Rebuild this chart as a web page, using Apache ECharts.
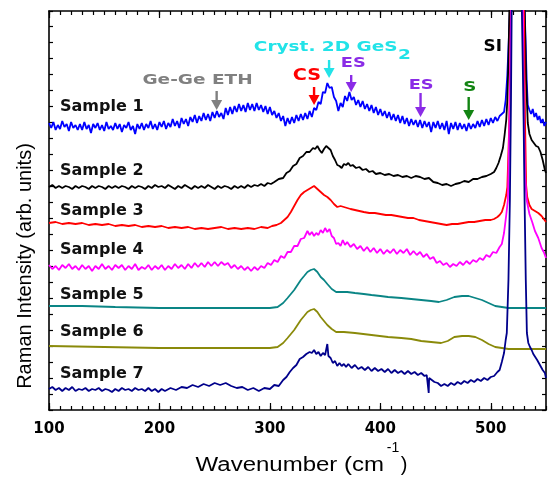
<!DOCTYPE html>
<html><head><meta charset="utf-8">
<script src="https://cdn.jsdelivr.net/npm/echarts@6/dist/echarts.min.js"></script>
<style>html,body{margin:0;padding:0;background:#fff}#c{width:549px;height:477px}</style>
</head><body><div id="c"></div>
<script>
// ---- data: [wavenumber (cm^-1), stacked Raman intensity (arb. units)] ----
const sample1 = [[100,287],[102,282],[104,288],[106,280],[108,285],[110,281],[112,289],[114,283],[116,286],[118,279],[120,288],[122,282],[124,285],[126,280],[128,286],[130,280],[132,288],[134,281],[136,285],[138,277],[140,286],[142,282],[144,287],[146,280],[148,285],[150,279],[152,288],[154,281],[156,284],[158,280],[160,287],[162,281],[164,286],[166,278],[168,285],[170,282],[172,288],[174,280],[176,284],[178,276],[180,286],[182,281],[184,287],[186,280],[188,286],[190,282],[192,289],[194,281],[196,286],[198,280],[200,288],[202,283],[204,289],[206,281],[208,287],[210,283],[212,291],[214,284],[216,289],[218,282],[220,292],[222,286],[224,291],[226,284],[228,293],[230,288],[232,295],[234,287],[236,294],[238,289],[240,297],[242,290],[244,296],[246,289],[248,298],[250,292],[252,299],[254,293],[256,297],[258,291],[260,302],[262,295],[264,303],[266,296],[268,304],[270,298],[272,306],[274,299],[276,305],[278,298],[280,307],[282,300],[284,306],[286,299],[288,307],[290,300],[292,305],[294,298],[296,304],[298,296],[300,303],[302,295],[304,299],[306,292],[308,297],[310,289],[312,294],[314,284],[316,292],[318,286],[320,293],[322,287],[324,295],[326,289],[328,296],[330,290],[332,297],[334,291],[336,299],[338,293],[340,302],[342,300],[344,308],[346,306],[348,318],[350,317],[352,327],[354,322],[356,323],[358,313],[360,309],[362,299],[364,307],[366,303],[368,314],[370,309],[372,318],[374,310],[376,313],[378,305],[380,310],[382,303],[384,309],[386,301],[388,306],[390,299],[392,305],[394,297],[396,303],[398,295],[400,301],[402,294],[404,299],[406,292],[408,298],[410,290],[412,296],[414,289],[416,295],[418,287],[420,294],[422,286],[424,292],[426,284],[428,291],[430,285],[432,290],[434,283],[436,290],[438,282],[440,289],[442,283],[444,288],[446,278],[448,288],[450,282],[452,289],[454,281],[456,287],[458,280],[460,289],[462,276],[464,287],[466,281],[468,288],[470,280],[472,287],[474,281],[476,286],[478,279],[480,287],[482,281],[484,286],[486,282],[488,289],[490,283],[492,290],[494,284],[496,291],[498,285],[500,292],[502,287],[504,293],[506,289],[508,294],[510,296],[512,298],[513.5,310],[515,335],[516.5,375],[517.5,405],[524,1500],[530.5,405],[531.5,370],[532.5,330],[533.5,305],[535,300],[536.5,296],[538,301],[539.5,293],[541,297],[542.5,290],[544,294],[545.5,287],[547,291],[548.5,284],[550,288]];
const sample2 = [[100,223],[103,225],[106,222],[109,224],[112,222],[115,224],[118,223],[121,221],[124,224],[127,222],[130,224],[133,223],[136,221],[139,224],[142,222],[145,224],[148,223],[151,221],[154,224],[157,222],[160,224],[163,222],[166,224],[169,223],[172,221],[175,224],[178,222],[181,224],[184,223],[187,221],[190,224],[193,222],[196,225],[199,223],[202,224],[205,222],[208,225],[211,223],[214,221],[217,224],[220,222],[223,225],[226,223],[229,221],[232,224],[235,222],[238,224],[241,222],[244,225],[247,223],[250,221],[253,224],[256,222],[259,224],[262,223],[265,221],[268,224],[271,222],[274,224],[277,222],[280,225],[283,223],[286,225],[289,224],[292,226],[295,224],[298,227],[301,226],[304,228],[308,231],[312,232],[315,237],[318,239],[321,244],[324,246],[327,252],[330,254],[333,258],[336,258],[339,262],[341,261],[343,264],[345,260],[347,257],[349,261],[351,264],[353,262],[355,260],[357,254],[359,250],[361,245],[363,244],[365,242],[367,246],[369,245],[371,247],[373,244],[375,245],[378,242],[381,243],[384,240],[387,241],[390,238],[393,239],[396,236],[400,237],[404,235],[408,236],[412,234],[416,235],[420,233],[424,234],[428,232],[432,234],[436,233],[440,231],[444,232],[448,228],[452,227],[456,225],[460,226],[464,224],[468,226],[472,227],[476,229],[480,228],[484,231],[488,231],[492,233],[496,234],[500,236],[503,238],[505,242],[507,247],[509,254],[511,262],[512.5,275],[514,290],[515,310],[516,350],[517,410],[524,1500],[530.5,410],[532,330],[533.5,287],[535,276],[537,270],[539,267],[541,264],[543,263],[545,258],[547,250],[549,240],[550,237]];
const sample3 = [[100,187],[106,188],[112,186],[118,187],[124,186],[130,187],[136,185],[142,186],[148,185],[154,186],[160,184],[166,185],[172,184],[178,185],[184,183],[190,184],[196,183],[202,184],[208,182],[214,183],[220,182],[226,183],[232,181],[238,182],[244,181],[250,182],[256,183],[262,181],[268,182],[274,181],[280,182],[286,181],[292,183],[298,182],[302,184],[306,185],[310,187],[313,190],[316,193],[319,198],[322,204],[325,210],[328,215],[331,218],[334,220],[337,222],[340,224],[342,222],[344,220],[346,218],[349,215],[352,213],[355,210],[358,206],[361,203],[364,204],[367,203],[370,202],[373,201],[377,200],[381,199],[385,198],[390,197],[395,197],[400,196],[405,195],[410,195],[415,194],[420,193],[425,192],[430,192],[435,190],[440,189],[445,188],[450,187],[455,186],[460,185],[465,186],[470,186],[475,187],[480,188],[485,188],[490,189],[495,190],[500,190],[503,191],[506,193],[508,195],[510,198],[512,205],[514,215],[515,223],[516.5,277],[517.5,340],[518.3,410],[524,1500],[530,410],[531,290],[532,225],[533,213],[535,205],[537,201],[540,199],[543,197],[546,194],[548,191],[550,188]];
const sample4 = [[100,145],[103,141],[106,144],[109,140],[112,145],[115,142],[118,146],[121,141],[124,144],[127,140],[130,145],[133,141],[136,144],[139,139],[142,144],[145,141],[148,146],[151,141],[154,144],[157,140],[160,145],[163,142],[166,145],[169,140],[172,144],[175,141],[178,146],[181,140],[184,143],[187,141],[190,145],[193,140],[196,144],[199,141],[202,145],[205,140],[208,144],[211,141],[214,146],[217,142],[220,145],[223,141],[226,146],[229,142],[232,147],[235,143],[238,147],[241,143],[244,148],[247,144],[250,148],[253,144],[256,148],[259,145],[262,147],[265,142],[268,145],[271,141],[274,144],[277,140],[280,143],[283,139],[286,143],[289,140],[292,144],[295,142],[298,147],[301,145],[304,150],[307,148],[310,154],[313,152],[316,158],[319,158],[322,164],[325,164],[328,171],[331,172],[334,179],[336,175],[338,178],[340,174],[342,177],[344,175],[346,180],[348,177],[350,182],[352,178],[354,181],[356,174],[358,172],[360,166],[362,167],[364,164],[366,170],[368,165],[370,168],[373,163],[376,166],[379,161],[382,164],[385,159],[388,163],[391,158],[394,162],[397,157],[400,161],[403,156],[406,160],[409,157],[412,161],[415,156],[418,160],[421,157],[424,161],[427,155],[430,159],[433,155],[436,158],[439,153],[442,156],[445,151],[448,153],[451,147],[454,149],[457,145],[460,147],[463,143],[466,146],[469,144],[472,148],[475,145],[478,149],[481,146],[484,150],[487,148],[490,152],[493,150],[496,155],[499,153],[502,158],[505,157],[508,163],[510,166],[512,177],[514,195],[515.5,210],[517,293],[518,370],[518.6,410],[524,1500],[529,410],[530,290],[531,235],[532.5,210],[535,196],[537.5,188],[540,179],[543,172],[546,162],[548,158],[550,152]];
const sample5 = [[100,104],[130,104],[160,103],[200,102],[250,102],[300,102],[307,103],[312,107],[316,112],[319,116],[322,120],[325,125],[328,130],[331,134],[334,138],[337,140],[340,141],[343,138],[346,133],[349,130],[352,126],[356,121],[360,118],[365,118],[370,118],[377,117],[385,116],[392,115],[400,114],[407,113],[419,112],[428,111],[437,110],[446,109],[453,108],[460,110],[467,113],[474,114],[480,114],[486,112],[492,110],[498,107],[504,104],[510,103],[516,102],[530,102],[550,102]];
const sample6 = [[100,64],[150,63],[200,62],[250,62],[300,62],[307,63],[312,67],[316,72],[319,76],[322,80],[325,85],[328,90],[331,94],[334,98],[337,100],[340,101],[343,98],[346,93],[349,89],[352,85],[356,81],[360,78],[367,78],[377,77],[392,75],[407,73],[419,72],[428,71],[437,69],[446,68],[455,67],[461,69],[467,73],[474,74],[480,74],[486,73],[492,70],[498,66],[504,63],[510,62],[516,61],[550,61]];
const sample7 = [[100,21],[103,23],[106,20],[109,22],[112,19],[115,22],[118,20],[121,23],[124,19],[127,21],[130,20],[133,22],[136,19],[139,21],[142,20],[145,22],[148,19],[151,21],[154,20],[157,18],[160,21],[163,19],[166,22],[169,20],[172,21],[175,19],[178,22],[181,20],[184,21],[187,19],[190,22],[193,19],[196,21],[199,18],[202,21],[205,19],[210,22],[215,20],[220,23],[225,22],[230,25],[235,23],[240,26],[245,24],[250,27],[255,25],[260,27],[265,24],[270,22],[275,23],[280,20],[285,22],[290,19],[295,22],[300,21],[304,25],[308,24],[312,30],[315,33],[318,38],[321,42],[324,45],[327,51],[330,53],[333,56],[336,58],[338,57],[340,60],[342,56],[344,58],[346,54],[348,57],[350,55],[352,66],[353,54],[355,52],[357,47],[359,49],[361,44],[363,47],[365,44],[367,46],[369,43],[371,46],[374,42],[377,45],[380,41],[383,43],[386,40],[389,43],[392,39],[395,42],[398,39],[401,41],[404,38],[407,41],[410,37],[413,40],[416,37],[419,39],[422,36],[425,39],[428,36],[431,38],[434,35],[437,37],[440,34],[442,35],[443.4,33],[443.8,17],[444.2,32],[446,30],[449,28],[452,27],[455,24],[458,26],[461,24],[464,27],[467,25],[470,28],[473,26],[476,29],[479,27],[482,30],[485,28],[488,31],[491,29],[494,32],[497,30],[500,33],[503,34],[506,38],[508,40],[510,48],[512,57],[513.5,70],[514.5,77],[516,130],[517.3,210],[518.3,310],[519,410],[524,1500],[528,410],[529.5,310],[530.6,210],[531.7,130],[532.7,77],[534,67],[535.5,63],[537,60],[538.5,56],[540,55],[542,50],[543.6,48],[545,44],[547,40],[549,37],[550,32]];

const sampleNames = ['Sample 1','Sample 2','Sample 3','Sample 4','Sample 5','Sample 6','Sample 7'];
const sampleLabelAnchors = [[110,303],[110,239],[110,199],[110,160],[110,115],[110,78],[110,36]];
const xTicks = [100, 200, 300, 400, 500];

// band assignments: text, anchor (data coords), arrow top/tip (data coords)
const bandTexts = ['Ge-Ge ETH', 'CS', 'Cryst. 2D GeS', 'ES', 'ES', 'S', 'SI'];
const bandTextAnchors = [[234.5,330],[333.6,334],[350.5,363],[375.5,347],[437,325],[481,323],[501.8,363]];
const bandArrowX = [251.8, 340, 353.6, 373.6, 436.4, 480, null];
const bandArrowTop = [319, 323, 350, 335, 317, 313, null];
const bandArrowTip = [300, 305, 332, 318, 293, 290, null];
const crystSubAnchor = [421.8, 355];

// ---- styles ----
const sampleColors = ['#0000FF','#000000','#FF0000','#FF00FF','#0A8585','#8A8A0A','#00008B'];
const bandColors = ['#808080','#FF0000','#22E3E8','#8A2BE6','#8A2BE6','#128412','#000000'];
const bandSizes = [14, 16, 14, 14, 14, 14, 16];
const bandScale = [1.32, 1.2, 1.32, 1.27, 1.27, 1.3, 1.05];

const samples = [sample1, sample2, sample3, sample4, sample5, sample6, sample7];
const chart = echarts.init(document.getElementById('c'), null, {renderer: 'canvas'});

const tickLine = {color: '#000', width: 1.2};
function xAx(pos, interval, len, labels, line) {
  return {
    type: 'value', position: pos, min: 100, max: 550, interval: interval,
    axisLine: {show: line, onZero: false, lineStyle: {color: '#000', width: 1.6}},
    axisTick: {show: true, inside: true, length: len, lineStyle: tickLine},
    splitLine: {show: false},
    axisLabel: labels ? {show: true, color: '#000', fontFamily: 'DejaVu Sans', fontWeight: 'bold', fontSize: 15, margin: 12,
      showMaxLabel: false, formatter: v => xTicks.indexOf(v) >= 0 ? String(v) : ''} : {show: false}
  };
}
function yAx(pos) {
  return {
    type: 'value', position: pos, min: 0, max: 399, interval: 16,
    axisLine: {show: true, onZero: false, lineStyle: {color: '#000', width: 1.6}},
    axisTick: {show: true, inside: true, length: 4, lineStyle: tickLine},
    splitLine: {show: false}, axisLabel: {show: false}
  };
}

const option = {
  animation: false,
  backgroundColor: '#fff',
  grid: {left: 49, right: 3, top: 11, bottom: 67, containLabel: false},
  xAxis: [xAx('bottom', 100, 7, true, true), xAx('bottom', 10, 4, false, false),
          xAx('top', 100, 7, false, true), xAx('top', 10, 4, false, false)],
  yAxis: [yAx('left'), yAx('right')],
  series: samples.map((d, i) => ({
    name: sampleNames[i], type: 'line', data: d, xAxisIndex: 0, yAxisIndex: 0,
    showSymbol: false, symbol: 'none', clip: true, z: 2 + i,
    lineStyle: {color: sampleColors[i], width: 1.8}, itemStyle: {color: sampleColors[i]}
  }))
};
chart.setOption(option);

const P = (pt) => chart.convertToPixel({xAxisIndex: 0, yAxisIndex: 0}, pt);
const g = [];
function addText(p, text, o) {
  g.push({type: 'text', x: p[0], y: p[1], rotation: o.rotation || 0, scaleX: o.scaleX || 1, z: 100,
    style: {text: text, fill: o.color || '#000', fontFamily: o.family || 'DejaVu Sans', fontWeight: o.weight || 'bold',
      fontSize: o.size, textAlign: o.align || 'center', textVerticalAlign: 'middle', align: o.align || 'center', verticalAlign: 'middle'}});
}
// sample labels
sampleNames.forEach((n, i) => addText(P(sampleLabelAnchors[i]), n, {size: 16, align: 'left', color: '#111'}));
// band labels and arrows
bandTexts.forEach((t, i) => {
  addText(P(bandTextAnchors[i]), t, {size: bandSizes[i], color: bandColors[i], scaleX: bandScale[i]});
  if (bandArrowX[i] != null) {
    const a = P([bandArrowX[i], bandArrowTop[i]]), b = P([bandArrowX[i], bandArrowTip[i]]);
    g.push({type: 'line', z: 100, shape: {x1: a[0], y1: a[1], x2: b[0], y2: b[1] - 8}, style: {stroke: bandColors[i], lineWidth: 2.4}});
    g.push({type: 'polygon', z: 100, shape: {points: [[b[0] - 5.5, b[1] - 10], [b[0] + 5.5, b[1] - 10], [b[0], b[1]]]}, style: {fill: bandColors[i]}});
  }
});
addText(P(crystSubAnchor), '2', {size: 14, color: bandColors[2], scaleX: 1.32});
// axis titles
addText([25, 266], 'Raman Intensity (arb. units)', {size: 20, weight: 'normal', family: 'Liberation Sans', rotation: Math.PI / 2, scaleX: 1.0});
addText([384, 465], 'Wavenumber (cm', {size: 20, weight: 'normal', family: 'Liberation Sans', align: 'right', scaleX: 1.2});
addText([393, 448], '-1', {size: 14, weight: 'normal', family: 'Liberation Sans'});
addText([404, 465], ')', {size: 20, weight: 'normal', family: 'Liberation Sans'});
chart.setOption({graphic: {elements: g}});
</script></body></html>
